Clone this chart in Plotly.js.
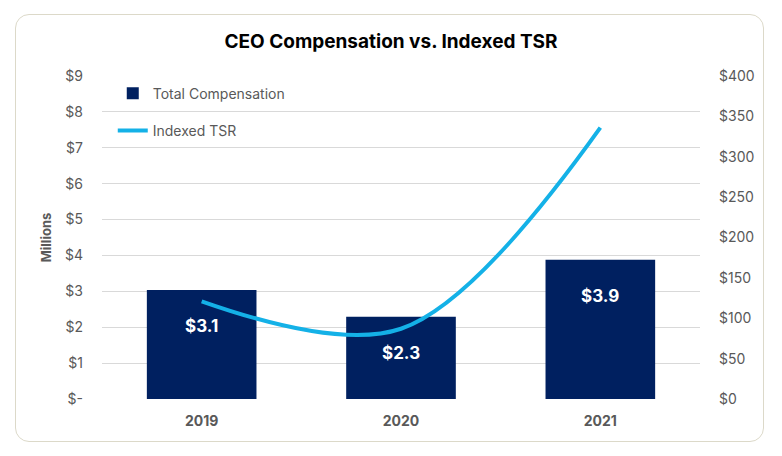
<!DOCTYPE html>
<html>
<head>
<meta charset="utf-8">
<script src="https://cdn.plot.ly/plotly-3.0.1.min.js"></script>
<style>
  html, body { margin: 0; padding: 0; background: #ffffff; }
  #frame { position: absolute; left: 15px; top: 14px; width: 749px; height: 428px;
           border: 1px solid #dcd9c9; border-radius: 14px; box-sizing: border-box; }
  #chart { position: absolute; left: 0; top: 0; width: 782px; height: 456px; }
</style>
</head>
<body>
<div id="frame"></div>
<div id="chart"></div>
<script>
const years = ["2019", "2020", "2021"];
const compensation = [3.04, 2.29, 3.88];
const compLabels = ["$3.1", "$2.3", "$3.9"];
const indexedTSR = [121, 87, 336];
const leftTicks = [0, 1, 2, 3, 4, 5, 6, 7, 8, 9];
const leftTickText = ["$-", "$1", "$2", "$3", "$4", "$5", "$6", "$7", "$8", "$9"];
const rightTicks = [0, 50, 100, 150, 200, 250, 300, 350, 400];
const rightTickText = ["$0", "$50", "$100", "$150", "$200", "$250", "$300", "$350", "$400"];

const FONT = "Inter, 'Open Sans', sans-serif";
const GRAY = "#595959";

const traces = [
  {
    type: "bar", name: "Total Compensation", x: years, y: compensation,
    marker: { color: "#002060" }, width: 0.55, hoverinfo: "skip",
    legendgroup: "a"
  },
  {
    type: "scatter", mode: "lines", name: "Indexed TSR", x: years, y: indexedTSR,
    yaxis: "y2", line: { color: "#14b1e7", width: 4, shape: "spline", smoothing: 1 },
    hoverinfo: "skip", legendgroup: "b"
  }
];

const annotations = years.map((yr, i) => ({
  x: i, y: compensation[i], xref: "x", yref: "y", yshift: -36,
  text: "<b>" + compLabels[i] + "</b>", showarrow: false,
  font: { family: FONT, size: 17, color: "#ffffff" }
}));

const layout = {
  width: 782, height: 456,
  margin: { l: 102, r: 82, t: 76, b: 57 },
  paper_bgcolor: "rgba(0,0,0,0)", plot_bgcolor: "rgba(0,0,0,0)",
  title: { text: "<b>CEO Compensation vs. Indexed TSR</b>", x: 0.5, xanchor: "center",
           y: 0.91, yanchor: "middle", font: { family: FONT, size: 19, color: "#000000" } },
  showlegend: true,
  legend: { x: 0.018, y: 0.995, xanchor: "left", yanchor: "top", bgcolor: "rgba(0,0,0,0)",
            font: { family: FONT, size: 14, color: GRAY }, tracegroupgap: 16,
            itemwidth: 30 },
  xaxis: { type: "category", range: [-0.5, 2.5], showgrid: false, zeroline: false,
           showline: false, ticks: "", ticklabelstandoff: 12,
           tickfont: { family: FONT, size: 14, color: GRAY, weight: "bold" } },
  yaxis: { range: [0, 9], tickvals: leftTicks, ticktext: leftTickText,
           showgrid: true, gridcolor: "#d9d9d9", gridwidth: 1, zeroline: false,
           showline: false, ticks: "", ticklabelstandoff: 18,
           tickfont: { family: FONT, size: 14, color: GRAY },
           title: { text: "<b>Millions</b>", standoff: 10, font: { family: FONT, size: 13, color: GRAY } } },
  yaxis2: { range: [0, 400], tickvals: rightTicks, ticktext: rightTickText, overlaying: "y",
            side: "right", showgrid: false, zeroline: false, showline: false, ticks: "",
            ticklabelstandoff: 18, tickfont: { family: FONT, size: 14, color: GRAY } },
  annotations: annotations
};

Plotly.newPlot("chart", traces, layout, { displayModeBar: false, staticPlot: true });
</script>
</body>
</html>
